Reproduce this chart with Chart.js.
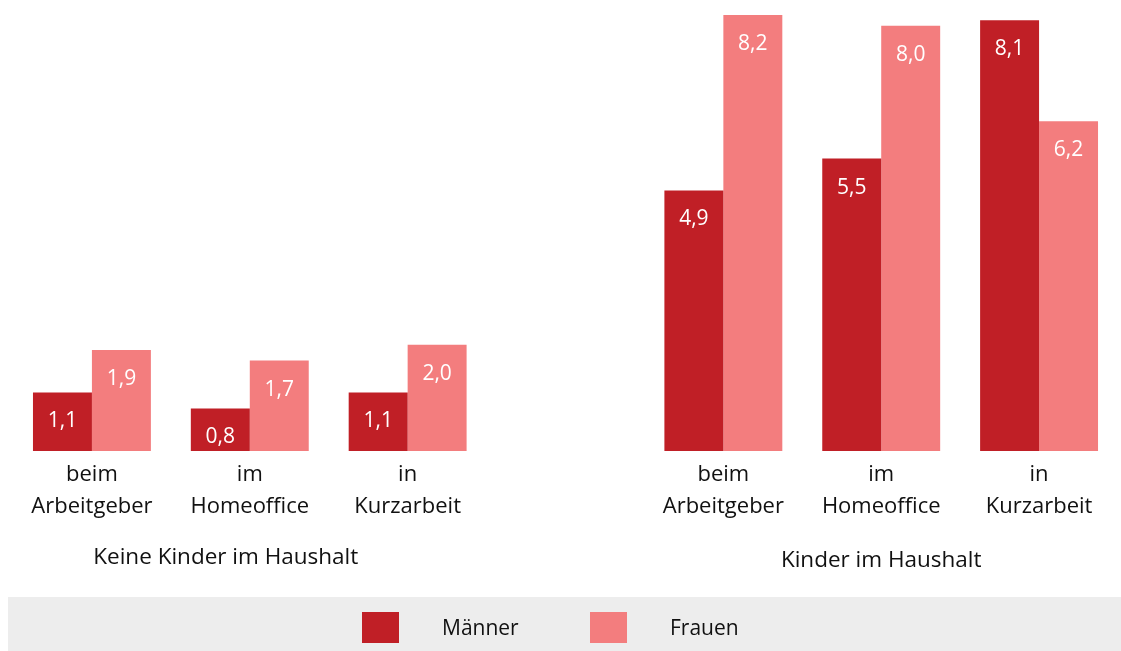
<!DOCTYPE html>
<html>
<head>
<meta charset="utf-8">
<script src="https://cdn.jsdelivr.net/npm/chart.js@4/dist/chart.umd.min.js"></script>
<style>
    html, body { margin: 0; padding: 0; background: #ffffff; }
    #wrap { position: relative; width: 1121px; height: 651px; }
</style>
</head>
<body>
<div id="wrap"><canvas id="chart"></canvas></div>
<script>
// categories (empty slot in the middle separates the two groups)
const categories = [
    ['beim', 'Arbeitgeber'], ['im', 'Homeoffice'], ['in', 'Kurzarbeit'],
    '',
    ['beim', 'Arbeitgeber'], ['im', 'Homeoffice'], ['in', 'Kurzarbeit']
];
const maenner = [1.1, 0.8, 1.1, null, 4.9, 5.5, 8.1];
const frauen = [1.9, 1.7, 2.0, null, 8.2, 8.0, 6.2];
const groupLabels = ['Keine Kinder im Haushalt', 'Kinder im Haushalt'];

const FONT = "'Open Sans', 'Noto Sans', sans-serif";
const TEXT = '#111111';

function fmt(v) {
    return v.toFixed(1).replace('.', ',');
}

// white value labels inside the bars
const valueLabels = {
    id: 'valueLabels',
    afterDatasetsDraw(chart) {
        const ctx = chart.ctx;
        ctx.save();
        ctx.fillStyle = '#ffffff';
        ctx.font = '21px ' + FONT;
        ctx.textAlign = 'center';
        ctx.textBaseline = 'middle';
        chart.data.datasets.forEach(function (ds, i) {
            chart.getDatasetMeta(i).data.forEach(function (bar, j) {
                if (ds.data[j] == null) return;
                ctx.fillText(fmt(ds.data[j]), bar.x, bar.y + 29);
            });
        });
        ctx.restore();
    }
};

// group captions and the grey legend strip
const extras = {
    id: 'extras',
    afterDraw(chart) {
        const ctx = chart.ctx;
        const x = chart.scales.x;
        ctx.save();
        ctx.fillStyle = TEXT;
        ctx.font = '22.5px ' + FONT;
        ctx.textAlign = 'center';
        ctx.textBaseline = 'middle';
        ctx.fillText(groupLabels[0], x.getPixelForValue(1) - 24, 558);
        ctx.fillText(groupLabels[1], x.getPixelForValue(5), 561);

        // legend strip
        ctx.fillStyle = '#ededed';
        ctx.fillRect(8, 597, chart.width - 8, 54);
        const items = [
            { x: 362, ds: chart.data.datasets[0] },
            { x: 590, ds: chart.data.datasets[1] }
        ];
        ctx.font = '21px ' + FONT;
        ctx.textAlign = 'left';
        items.forEach(function (it) {
            ctx.fillStyle = it.ds.backgroundColor;
            ctx.fillRect(it.x, 612, 37, 31);
            ctx.fillStyle = TEXT;
            ctx.fillText(it.ds.label, it.x + 80, 629);
        });
        ctx.restore();
    }
};

new Chart(document.getElementById('chart'), {
    type: 'bar',
    data: {
        labels: categories,
        datasets: [
            {
                label: 'Männer',
                data: maenner,
                backgroundColor: '#c01f26',
                categoryPercentage: 0.747,
                barPercentage: 1.0,
            },
            {
                label: 'Frauen',
                data: frauen,
                backgroundColor: '#f37d7e',
                categoryPercentage: 0.747,
                barPercentage: 1.0,
            }
        ]
    },
    options: {
        responsive: true,
        maintainAspectRatio: false,
        animation: false,
        layout: {
            padding: { left: 13, right: 3, top: 15, bottom: 0 }
        },
        plugins: {
            legend: { display: false },
            tooltip: { enabled: false },
        },
        scales: {
            x: {
                grid: { display: false },
                border: { display: false },
                afterFit: function (scale) {
                    scale.height = 200;
                },
                ticks: {
                    color: TEXT,
                    padding: 0,
                    maxRotation: 0,
                    autoSkip: false,
                    font: { family: FONT, size: 22, lineHeight: 1.45 },
                },
            },
            y: {
                display: false,
                min: 0,
                max: 8.2,
            },
        },
    },
    plugins: [valueLabels, extras],
});
</script>
</body>
</html>
